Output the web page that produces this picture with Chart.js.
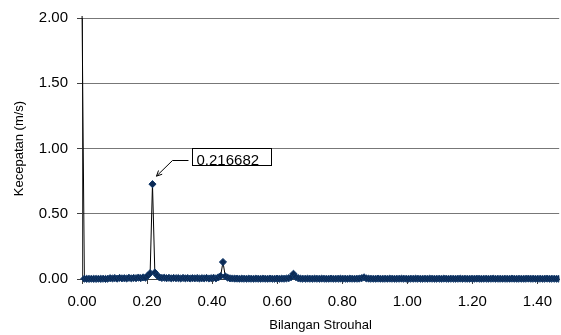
<!DOCTYPE html>
<html>
<head>
<meta charset="utf-8">
<script src="https://cdn.jsdelivr.net/npm/chart.js@4/dist/chart.umd.min.js"></script>
<style>
  html, body { margin: 0; padding: 0; background: #fff; }
  #wrap { width: 561px; height: 335px; }
</style>
</head>
<body>
<div id="wrap"><canvas id="chart" width="561" height="335"></canvas></div>
<script>
// FFT spectrum of velocity vs Strouhal number
// bin spacing of the spectrum (peak sits on bin 30)
const STROUHAL_STEP = 0.216682 / 30;
const PEAK_LABEL = '0.216682';

// amplitude per bin (m/s), bin 0 is the DC part and runs off the top
const velocity = [
  2.10, 0.002, 0.001, 0.001, 0.002, 0.001, 0.001, 0.002, 0.001, 0.002,
  0.001, 0.002, 0.006, 0.004, 0.007, 0.003, 0.008, 0.005, 0.006, 0.004,
  0.009, 0.005, 0.008, 0.006, 0.011, 0.007, 0.012, 0.010, 0.026, 0.045,
  0.727, 0.050, 0.028, 0.012, 0.008, 0.010, 0.006, 0.009, 0.005, 0.008,
  0.006, 0.007, 0.004, 0.008, 0.005, 0.007, 0.004, 0.006, 0.005, 0.007,
  0.004, 0.006, 0.005, 0.008, 0.004, 0.006, 0.009, 0.005, 0.012, 0.022,
  0.130, 0.020, 0.010, 0.005, 0.004, 0.003, 0.003, 0.002, 0.003, 0.002,
  0.002, 0.003, 0.002, 0.002, 0.003, 0.002, 0.002, 0.003, 0.002, 0.002,
  0.003, 0.002, 0.002, 0.003, 0.002, 0.003, 0.002, 0.004, 0.006, 0.014,
  0.040, 0.015, 0.006, 0.003, 0.002, 0.002, 0.003, 0.002, 0.002, 0.003,
  0.002, 0.002, 0.003, 0.002, 0.002, 0.002, 0.003, 0.002, 0.002, 0.002,
  0.003, 0.002, 0.002, 0.002, 0.003, 0.002, 0.002, 0.002, 0.003, 0.006,
  0.013, 0.005, 0.003, 0.002, 0.002, 0.002, 0.003, 0.002, 0.002, 0.002,
  0.002, 0.003, 0.002, 0.002, 0.002, 0.002, 0.003, 0.002, 0.002, 0.002,
  0.002, 0.002, 0.003, 0.002, 0.002, 0.002, 0.002, 0.002, 0.003, 0.002,
  0.002, 0.002, 0.002, 0.002, 0.003, 0.002, 0.002, 0.002, 0.002, 0.002,
  0.002, 0.003, 0.002, 0.002, 0.002, 0.002, 0.002, 0.002, 0.003, 0.002,
  0.002, 0.002, 0.002, 0.002, 0.002, 0.003, 0.002, 0.002, 0.002, 0.002,
  0.002, 0.002, 0.002, 0.003, 0.002, 0.002, 0.002, 0.002, 0.002, 0.002,
  0.003, 0.002, 0.002, 0.002, 0.002, 0.002, 0.002, 0.002, 0.003, 0.002,
  0.002, 0.002, 0.002, 0.002, 0.002
];

const xTicks = [0, 0.2, 0.4, 0.6, 0.8, 1.0, 1.2, 1.4];
const yTicks = [0, 0.5, 1.0, 1.5, 2.0];

const points = velocity.map((v, i) => ({ x: i * STROUHAL_STEP, y: v }));

const FAMILY = 'Arial, "Liberation Sans", sans-serif';
const TICK_FONT = { family: FAMILY, size: 15 };
const TITLE_FONT = { family: FAMILY, size: 13 };

// callout box with arrow pointing at the main peak
const calloutPlugin = {
  id: 'callout',
  afterDatasetsDraw(chart) {
    const meta = chart.getDatasetMeta(0);
    let peak = 1;
    for (let i = 2; i < velocity.length; i++) {
      if (velocity[i] > velocity[peak]) peak = i;
    }
    const pt = meta.data[peak];
    const px = pt.x, py = pt.y;
    const ctx = chart.ctx;
    ctx.save();
    ctx.strokeStyle = '#000';
    ctx.fillStyle = '#000';
    ctx.lineWidth = 1;

    // leader line
    const tipX = px + 4, tipY = py - 8;
    const elbowY = Math.round(py - 24) + 0.5;
    ctx.beginPath();
    ctx.moveTo(px + 36, elbowY);
    ctx.lineTo(px + 20, elbowY);
    ctx.lineTo(tipX, tipY);
    ctx.stroke();
    // arrow head
    const ang = Math.atan2(tipY - elbowY, tipX - (px + 20));
    const len = 6;
    ctx.beginPath();
    ctx.moveTo(tipX - len * Math.cos(ang - 0.45), tipY - len * Math.sin(ang - 0.45));
    ctx.lineTo(tipX, tipY);
    ctx.lineTo(tipX - len * Math.cos(ang + 0.45), tipY - len * Math.sin(ang + 0.45));
    ctx.stroke();

    // label box
    const bx = Math.round(px + 40) + 0.5, by = Math.round(py - 36) + 0.5;
    ctx.fillStyle = '#fff';
    ctx.fillRect(bx, by, 79, 17);
    ctx.strokeRect(bx, by, 79, 17);
    ctx.fillStyle = '#000';
    ctx.font = '15px ' + FAMILY;
    ctx.textBaseline = 'alphabetic';
    ctx.fillText(PEAK_LABEL, bx + 4, by + 16);
    ctx.restore();
  }
};

new Chart(document.getElementById('chart'), {
  type: 'line',
  data: {
    datasets: [{
      data: points,
      borderColor: '#000',
      borderWidth: 1,
      pointStyle: 'rectRot',
      pointRadius: 3.6,
      pointBackgroundColor: '#0b2a55',
      pointBorderColor: '#123a6c',
      pointBorderWidth: 1,
      tension: 0,
      clip: { left: 5, top: 2, right: 0, bottom: 8 }
    }]
  },
  options: {
    responsive: false,
    animation: false,
    devicePixelRatio: 1,
    layout: { autoPadding: false, padding: { top: 15, right: 0, left: 0, bottom: 0 } },
    plugins: {
      legend: { display: false },
      tooltip: { enabled: false }
    },
    scales: {
      x: {
        type: 'linear',
        min: 0,
        max: 1.467,
        afterFit: (s) => { s.height = 56; },
        afterBuildTicks: (s) => { s.ticks = xTicks.map(v => ({ value: v })); },
        ticks: {
          color: '#000',
          font: TICK_FONT,
          padding: 9,
          maxRotation: 0,
          autoSkip: false,
          callback: (v) => Number(v).toFixed(2)
        },
        grid: {
          drawOnChartArea: false,
          drawTicks: true,
          tickLength: 5,
          tickColor: '#404040'
        },
        border: { color: '#404040' },
        title: {
          display: true,
          text: 'Bilangan Strouhal',
          color: '#000',
          font: TITLE_FONT,
          padding: { top: 0, bottom: 2 }
        }
      },
      y: {
        type: 'linear',
        min: 0,
        max: 2,
        afterFit: (s) => { s.width = 82; },
        afterBuildTicks: (s) => { s.ticks = yTicks.map(v => ({ value: v })); },
        ticks: {
          color: '#000',
          font: TICK_FONT,
          padding: 9,
          callback: (v) => Number(v).toFixed(2)
        },
        grid: {
          color: '#777777',
          tickColor: '#404040',
          tickLength: 5,
          lineWidth: 1
        },
        border: { color: '#404040' },
        title: {
          display: true,
          text: 'Kecepatan (m/s)',
          color: '#000',
          font: TITLE_FONT,
          padding: { top: 12, bottom: 0 }
        }
      }
    }
  },
  plugins: [calloutPlugin]
});
</script>
</body>
</html>
